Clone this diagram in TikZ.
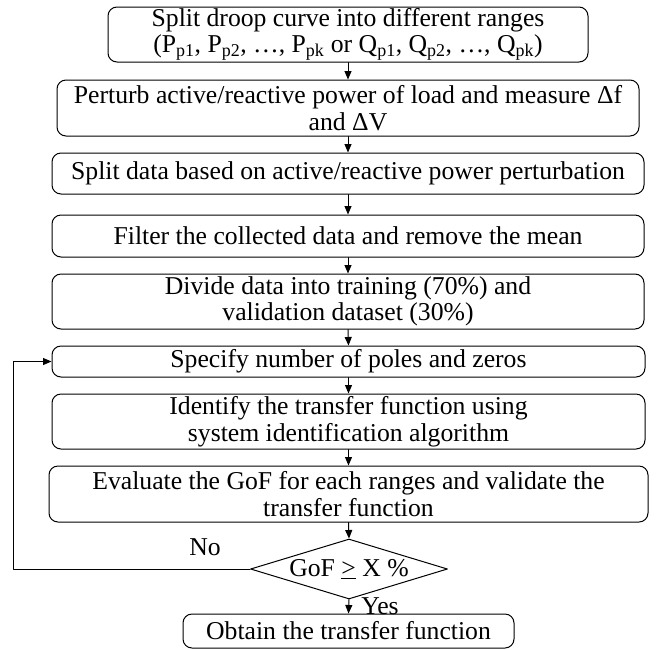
\documentclass[tikz,border=0pt]{standalone}
\usepackage{fontspec}
\setmainfont{Liberation Serif}
\usetikzlibrary{arrows.meta,shapes.geometric}

\begin{document}
\begin{tikzpicture}[x=1pt,y=-1pt,line cap=round,line join=round,
  every node/.style={font=\fontsize{25.7}{26.5}\selectfont},
  box/.style={draw,line width=1pt,rounded corners=9pt,align=center,inner sep=0pt,minimum width=592pt},
  flow/.style={-{Triangle[length=8.5pt,width=7pt]},line width=1pt}]
  \useasboundingbox (0,0) rectangle (656,649);
  % 步骤框
  \node[box,minimum width=480pt,minimum height=55pt] (s1) at (348,34.5)
    {Split droop curve into different ranges\\(P\textsubscript{p1}, P\textsubscript{p2}, \dots, P\textsubscript{pk} or Q\textsubscript{p1}, Q\textsubscript{p2}, \dots, Q\textsubscript{pk})};
  \node[box,minimum width=582pt,minimum height=56pt] (s2) at (348,108)
    {Perturb active/reactive power of load and measure Δf\\and ΔV};
  \node[box,minimum height=41pt] (s3) at (348,173.5) {Split data based on active/reactive power perturbation};
  \node[box,minimum height=42pt] (s4) at (348,236) {Filter the collected data and remove the mean};
  \node[box,minimum height=55pt] (s5) at (348,301.5)
    {Divide data into training (70\%) and\\validation dataset (30\%)};
  \node[box,minimum width=593pt,minimum height=31pt] (s6) at (348.5,361.5) {Specify number of poles and zeros};
  \node[box,minimum width=593pt,minimum height=55pt] (s7) at (348.5,421.5)
    {Identify the transfer function using\\system identification algorithm};
  \node[box,minimum width=599pt,minimum height=56pt] (s8) at (348.5,494)
    {Evaluate the GoF for each ranges and validate the\\transfer function};
  % 判断
  \node[draw,diamond,line width=1pt,aspect=3.3,inner sep=0pt,minimum width=197pt,minimum height=60pt] (dec) at (349,569)
    {GoF \underline{>} X \%};
  \node[box,minimum width=331pt,minimum height=34pt] (s9) at (348.5,631) {Obtain the transfer function};
  % 连线
  \foreach \a/\b in {s1/s2,s2/s3,s3/s4,s4/s5,s5/s6,s6/s7,s7/s8,s8/dec}
    \draw[flow] (\a.south) -- (\b.north);
  \draw[flow] (dec.south) -- node[pos=0.45,right=12pt,inner sep=0pt]{Yes} (s9.north);
  \coordinate (back) at (13,569);
  \draw[flow] (dec.west) -- node[pos=0.19,above=9pt]{No} (back) |- (s6.west);
\end{tikzpicture}
\end{document}
